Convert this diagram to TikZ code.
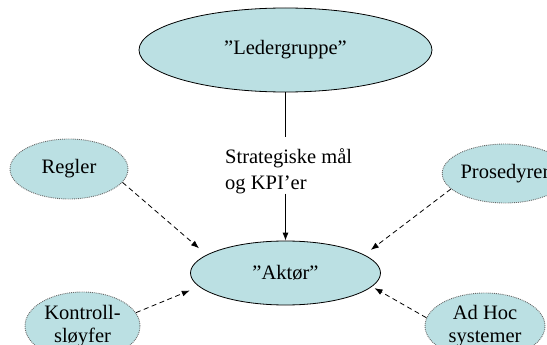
\documentclass[tikz,border=0pt]{standalone}
\usepackage{fontspec}
\setmainfont{Liberation Serif}
\usetikzlibrary{shapes.geometric,arrows.meta}
\definecolor{bubble}{RGB}{187,224,227}
\definecolor{rim}{RGB}{105,105,105}
\begin{document}
\begin{tikzpicture}[x=1pt,y=-1pt,
  every node/.style={font=\fontsize{20.5}{24}\selectfont},
  mainblob/.style={ellipse,fill=bubble,draw=black,line width=0.8pt,inner sep=0pt},
  sideblob/.style={ellipse,fill=bubble,draw=rim,densely dotted,line width=0.9pt,inner sep=0pt,align=center},
  flow/.style={line width=0.8pt,-{Latex[length=8pt,width=6pt]}},
  hint/.style={flow,dash pattern=on 5pt off 3.5pt}]
\useasboundingbox (0,0) rectangle (547,345);

% central bodies
\node[mainblob,minimum width=293pt,minimum height=84pt] (leder) at (285.5,50) {”Ledergruppe”};
\node[mainblob,minimum width=190pt,minimum height=64pt] (aktor) at (285.5,273) {”Aktør”};

% surrounding influences
\node[sideblob,minimum width=118pt,minimum height=60pt] (regler) at (69,169) {Regler};
\node[sideblob,minimum width=120pt,minimum height=59pt] (prosed) at (505,173.5) {Prosedyrer};
\node[sideblob,minimum width=115pt,minimum height=68pt] (kontroll) at (82.5,326) {Kontroll-\\[-1pt]sløyfer};
\node[sideblob,minimum width=120pt,minimum height=66pt] (adhoc) at (485,326) {Ad Hoc\\[-1pt]systemer};

% label on the management line
\node[anchor=north west,align=left,inner sep=0pt,font=\fontsize{20.5}{26}\selectfont] (strat) at (225,148) {Strategiske mål\\og KPI’er};

% management line, interrupted by its label
\draw[line width=0.8pt,shorten >=11pt] (leder.south) -- (strat.north -| leder.south);
\draw[flow] (strat.south -| aktor.north) -- (aktor.north);

% dashed influences onto the actor
\draw[hint,shorten >=10pt] (regler.-14) -- (aktor.167);
\draw[hint,shorten >=8pt] (prosed.196.6) -- (aktor.13);
\draw[hint,shorten >=10pt] (kontroll.14) -- (aktor.-171);
\draw[hint,shorten >=3pt] (adhoc.172) -- (aktor.-9);
\end{tikzpicture}
\end{document}
